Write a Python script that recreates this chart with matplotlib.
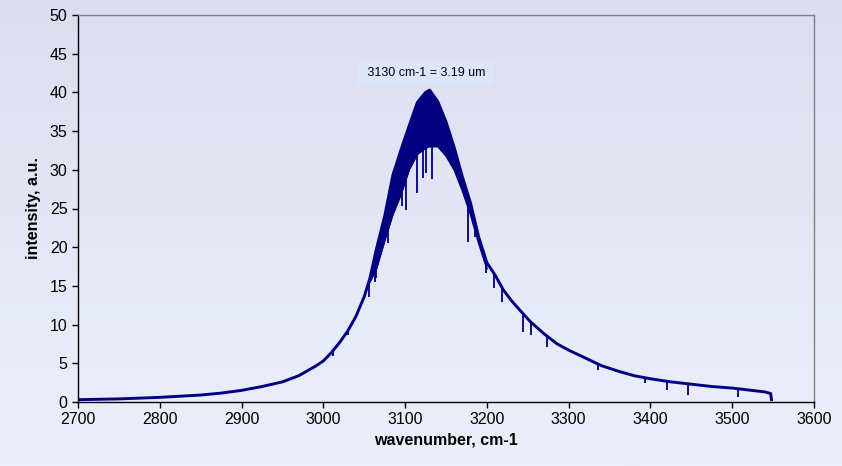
import numpy as np
import matplotlib
matplotlib.use('Agg')
import matplotlib.pyplot as plt

plt.rcParams['font.family'] = ['Liberation Sans', 'DejaVu Sans']

# spectrum (upper envelope through the peak)
wn = [2700, 2725, 2750, 2775, 2800, 2825, 2850, 2875, 2900, 2925, 2950, 2970,
      2990, 3000, 3010, 3020, 3030, 3040, 3050, 3057, 3065, 3075, 3085, 3095,
      3105, 3115, 3125, 3130, 3140, 3150, 3160, 3170, 3180, 3190, 3200, 3210,
      3220, 3230, 3240, 3253, 3270, 3286, 3300, 3320, 3340, 3360, 3380, 3400,
      3425, 3450, 3475, 3500, 3520, 3540, 3547, 3548]
intensity = [0.3, 0.35, 0.4, 0.5, 0.6, 0.75, 0.9, 1.15, 1.5, 2.0, 2.6, 3.4,
             4.6, 5.3, 6.4, 7.7, 9.2, 11.1, 13.6, 16.0, 19.8, 24.0, 29.3, 32.6,
             35.7, 38.7, 40.0, 40.3, 38.8, 36.2, 32.9, 29.1, 25.7, 21.3, 18.0, 16.4,
             14.5, 13.1, 11.9, 10.4, 8.8, 7.5, 6.7, 5.7, 4.7, 4.0, 3.4, 3.0,
             2.6, 2.3, 2.0, 1.8, 1.55, 1.3, 1.1, 0.3]

# lower edge of the dense oscillating band near the peak
band_wn = [3057, 3065, 3075, 3085, 3095, 3105, 3115, 3125, 3130, 3140, 3150,
           3160, 3170, 3180, 3190, 3200]
band_lo = [15.5, 17.2, 20.8, 24.2, 26.8, 30.0, 32.0, 32.8, 33.0, 33.0, 31.8,
           30.0, 27.3, 24.2, 20.5, 17.2]

# downward spikes: position and bottom value
spike_wn = [3012, 3030, 3056, 3063, 3065, 3079, 3096, 3101, 3115, 3122, 3125,
            3133, 3177, 3185, 3199, 3209, 3218, 3244, 3254, 3274, 3336, 3393,
            3420, 3446, 3507]
spike_lo = [6.0, 8.7, 13.6, 15.5, 16.0, 20.5, 25.3, 24.8, 27.0, 28.9, 29.6,
            28.8, 20.7, 21.3, 16.7, 14.7, 12.9, 9.0, 8.7, 7.1, 4.1, 2.5,
            1.55, 0.9, 0.6]

xticks = list(range(2700, 3601, 100))
yticks = list(range(0, 51, 5))

navy = '#000080'

fig = plt.figure(figsize=(8.42, 4.66), dpi=100)

# background gradient
bg = fig.add_axes([0, 0, 1, 1], zorder=-1)
top = np.array([220, 222, 240]) / 255
bot = np.array([236, 239, 250]) / 255
t = np.linspace(0, 1, 256)[:, None]
grad = top[None, :] * (1 - t) + bot[None, :] * t
bg.imshow(grad[:, None, :], aspect='auto', extent=[0, 1, 0, 1])
bg.axis('off')

ax = fig.add_axes([78 / 842, 64 / 466, 736 / 842, 387 / 466])
ax.set_facecolor('none')

ax.plot(wn, intensity, color=navy, lw=2.1)
hi = np.interp(band_wn, wn, intensity)
ax.fill_between(band_wn, band_lo, hi, color=navy, lw=0)
ax.plot(band_wn, band_lo, color=navy, lw=1.2)
spike_top = np.interp(spike_wn, wn, intensity)
ax.vlines(spike_wn, spike_lo, spike_top, color=navy, lw=1.3)

ax.set_xlim(2700, 3600)
ax.set_ylim(0, 50)
ax.set_xticks(xticks)
ax.set_yticks(yticks)
ax.tick_params(direction='out', length=4, width=1, colors='black', labelsize=11.5)

for s in ['left', 'bottom']:
    ax.spines[s].set_color('black')
    ax.spines[s].set_linewidth(1)
for s in ['top', 'right']:
    ax.spines[s].set_color('#808080')
    ax.spines[s].set_linewidth(1)

ax.set_xlabel('wavenumber, cm-1', fontsize=11.5, fontweight='bold', labelpad=4)
ax.set_ylabel('intensity, a.u.', fontsize=11.5, fontweight='bold', labelpad=6)

ax.text(3125.5, 42.5, ' 3130 cm-1 = 3.19 um ', fontsize=9, ha='center', va='center',
        bbox=dict(boxstyle='square,pad=0.45', fc='#dce5f9', ec='none'))

fig.savefig('out.png', dpi=100)
